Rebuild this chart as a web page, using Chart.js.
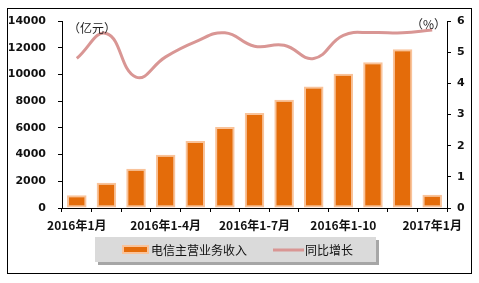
<!DOCTYPE html>
<html>
<head>
<meta charset="utf-8">
<title>电信主营业务收入</title>
<style>
body { margin: 0; padding: 0; background: #fff; }
#wrap { position: relative; width: 479px; height: 283px; }
</style>
<script src="https://cdn.jsdelivr.net/npm/chart.js@4.4.0/dist/chart.umd.min.js"></script>
</head>
<body>
<div id="wrap"><canvas id="c" width="479" height="283"></canvas></div>
<script>
var months = ['2016年1月', '2016年1-2月', '2016年1-3月', '2016年1-4月', '2016年1-5月', '2016年1-6月',
	'2016年1-7月', '2016年1-8月', '2016年1-9月', '2016年1-10', '2016年1-11月', '2016年1-12月', '2017年1月'];
var revenue = [950, 1890, 2930, 3980, 5020, 6070, 7110, 8110, 9100, 10050, 10920, 11890, 990];
var growth = [4.8, 5.6, 4.2, 4.85, 5.33, 5.62, 5.19, 5.22, 4.8, 5.54, 5.63, 5.62, 5.71];
var leftTicks = [0, 2000, 4000, 6000, 8000, 10000, 12000, 14000];
var rightTicks = [0, 1, 2, 3, 4, 5, 6];

var numFont = { family: 'DejaVu Sans', size: 11, weight: 'bold' };
var cjk = '"Noto Sans CJK SC", sans-serif';

// frame, unit labels and legend box
var extras = {
	id: 'extras',
	afterDraw: function (chart) {
		var c = chart.ctx, a = chart.chartArea;
		c.save();
		c.strokeStyle = '#000';
		c.lineWidth = 1;
		c.strokeRect(7.5, 8.5, 464, 265);

		c.fillStyle = '#222';
		c.font = '12px ' + cjk;
		c.textBaseline = 'middle';
		c.textAlign = 'left';
		c.fillText('（亿元）', a.left + 6, 28);
		c.textAlign = 'right';
		c.fillText('（%）', a.right - 1, 24);

		// legend
		var bar = chart.data.datasets[1], line = chart.data.datasets[0];
		var lx = 95, ly = 237, lw = 281, lh = 25;
		c.fillStyle = '#a6a6a6';
		c.fillRect(lx + 3, ly + 3, lw, lh);
		c.fillStyle = '#dadada';
		c.fillRect(lx, ly, lw, lh);
		c.fillStyle = bar.borderColor;
		c.fillRect(122, 245, 27, 9);
		c.fillStyle = bar.backgroundColor;
		c.fillRect(124, 247, 23, 5);
		c.fillStyle = '#111';
		c.textAlign = 'left';
		c.font = '12px ' + cjk;
		c.fillText(bar.label, 151, 250);
		c.strokeStyle = line.borderColor;
		c.lineWidth = 3;
		c.beginPath();
		c.moveTo(273, 250);
		c.lineTo(304, 250);
		c.stroke();
		c.fillText(line.label, 305, 250);
		c.restore();
	}
};

new Chart(document.getElementById('c'), {
	data: {
		labels: months,
		datasets: [{
			type: 'line',
			label: '同比增长',
			data: growth,
			yAxisID: 'y1',
			borderColor: '#d99694',
			borderWidth: 3,
			pointRadius: 0,
			tension: 0.45,
			order: 0
		}, {
			type: 'bar',
			label: '电信主营业务收入',
			data: revenue,
			yAxisID: 'y',
			backgroundColor: '#e46c0a',
			borderColor: '#f9c39a',
			borderWidth: 2,
			borderSkipped: false,
			barPercentage: 0.66,
			categoryPercentage: 1,
			order: 1
		}]
	},
	options: {
		responsive: false,
		animation: false,
		layout: { padding: { left: 0, right: 0, top: 21, bottom: 0 } },
		plugins: {
			legend: { display: false },
			tooltip: { enabled: false }
		},
		scales: {
			x: {
				offset: true,
				border: { color: '#000', width: 1 },
				grid: { display: true, drawOnChartArea: false, offset: true, tickLength: 4, color: '#000' },
				ticks: {
					autoSkip: false,
					maxRotation: 0,
					padding: 6,
					color: '#111',
					font: { family: cjk, size: 12, weight: 'bold' },
					callback: function (v, i) { return i % 3 === 0 ? months[i] : ''; }
				},
				afterFit: function (s) { s.height = 75; }
			},
			y: {
				position: 'left',
				min: 0, max: 14000,
				afterBuildTicks: function (s) { s.ticks = leftTicks.map(function (v) { return { value: v }; }); },
				border: { color: '#000', width: 1 },
				grid: { drawOnChartArea: false, tickLength: 4, color: '#000' },
				ticks: { color: '#111', font: numFont, padding: 12, callback: function (v) { return String(v); } },
				afterFit: function (s) { s.width = 62; }
			},
			y1: {
				position: 'right',
				min: 0, max: 6,
				afterBuildTicks: function (s) { s.ticks = rightTicks.map(function (v) { return { value: v }; }); },
				border: { color: '#000', width: 1 },
				grid: { drawOnChartArea: false, tickLength: 4, color: '#000' },
				ticks: { color: '#111', font: numFont, padding: 6, callback: function (v) { return String(v); } },
				afterFit: function (s) { s.width = 32; }
			}
		}
	},
	plugins: [extras]
});
</script>
</body>
</html>
